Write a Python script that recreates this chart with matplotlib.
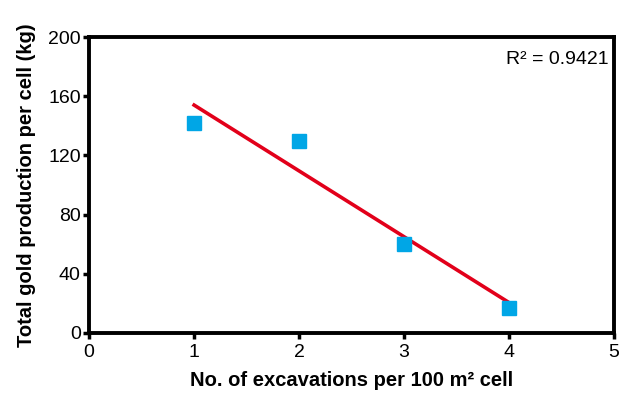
import matplotlib.pyplot as plt
import numpy as np

plt.rcParams['font.family'] = ['Liberation Sans', 'DejaVu Sans']

# dane
excavations = [1, 2, 3, 4]
gold_kg = [142, 130, 60, 17]
r2_label = "R² = 0.9421"

x_ticks = [0, 1, 2, 3, 4, 5]
y_ticks = [0, 40, 80, 120, 160, 200]

# prosta regresji
slope, intercept = np.polyfit(excavations, gold_kg, 1)
fit_x = np.array([min(excavations), max(excavations)])
fit_y = slope * fit_x + intercept

fig = plt.figure(figsize=(6.19, 3.94), dpi=100)
ax = fig.add_axes([0.144, 0.155, 0.848, 0.751])

ax.plot(fit_x, fit_y, color="#e2001a", lw=2.6, zorder=2)
ax.plot(excavations, gold_kg, "s", color="#00a6e6", ms=10.5, mec="#00a6e6", zorder=3)

ax.set_xlim(0, 5)
ax.set_ylim(0, 200)
ax.set_xticks(x_ticks)
ax.set_yticks(y_ticks)
ax.tick_params(direction="out", length=4, width=2.5, labelsize=14, pad=2)
ax.tick_params(axis="x", pad=4)

for s in ax.spines.values():
    s.set_linewidth(2.8)

ax.set_xlabel("No. of excavations per 100 m² cell", fontsize=14.5, fontweight="bold", labelpad=7)
ax.set_ylabel("Total gold production per cell (kg)", fontsize=14.5, fontweight="bold", labelpad=9)
ax.text(0.99, 0.925, r2_label, transform=ax.transAxes, ha="right", va="center", fontsize=14)

fig.savefig("out.png", dpi=100)
